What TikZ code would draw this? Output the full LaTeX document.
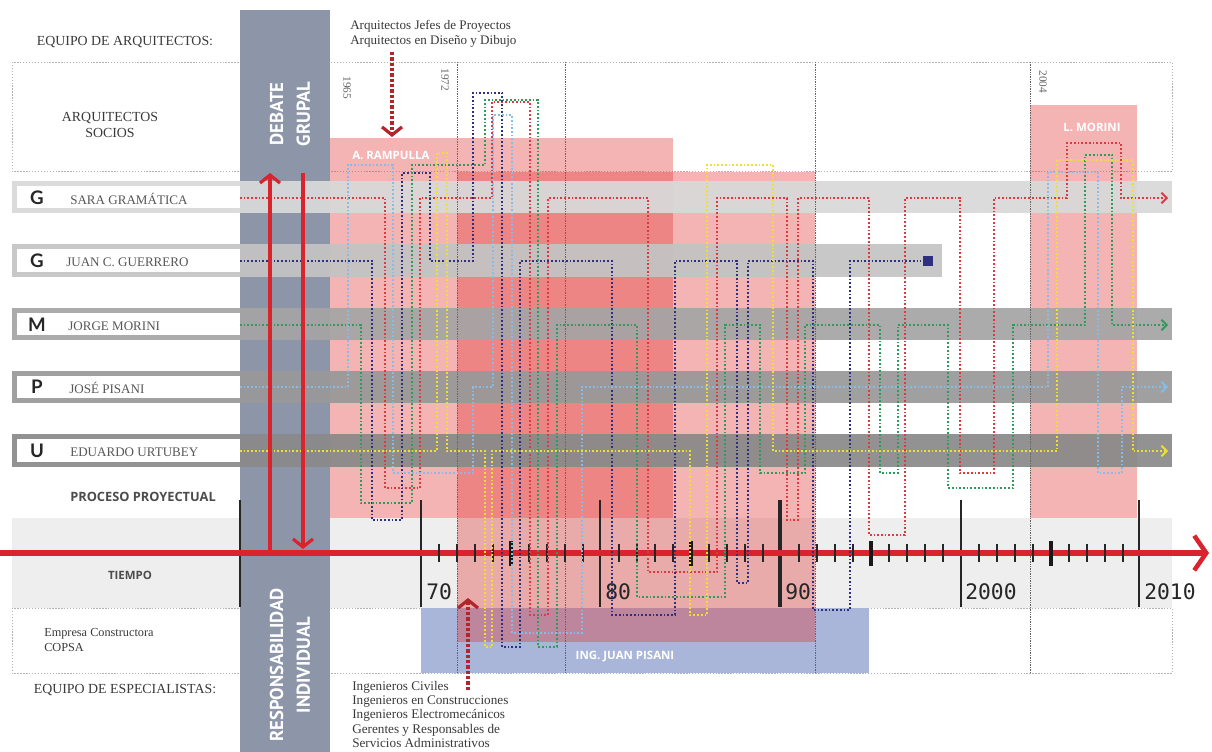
\documentclass[tikz,border=0pt]{standalone}
\usepackage{fontspec}
\setmainfont{Liberation Serif}
\newfontfamily\osans{Open Sans}
\newfontfamily\ptsans{PT Sans}
\newfontfamily\numfont{DejaVu Sans Mono}
\newfontfamily\lato{Lato}
\usetikzlibrary{arrows.meta}

\definecolor{colbg}{HTML}{8D96A9}
\definecolor{pinkbase}{HTML}{E13434}
\definecolor{blueblk}{HTML}{A9B6D9}
\definecolor{tband}{HTML}{EEEEEE}
\definecolor{cSara}{HTML}{DA3B40}
\definecolor{cJuan}{HTML}{2E2F7E}
\definecolor{cMorini}{HTML}{2F9A5C}
\definecolor{cPisani}{HTML}{86BDE6}
\definecolor{cUrtubey}{HTML}{EEE030}
\definecolor{arrowred}{HTML}{D9232D}
\definecolor{darkred}{HTML}{B0262C}
\definecolor{txt}{HTML}{3A3A3A}
\definecolor{bandA}{HTML}{D9D9D9}
\definecolor{bandB}{HTML}{C4C4C4}
\definecolor{bandC}{HTML}{A5A5A5}
\definecolor{bandD}{HTML}{999999}
\definecolor{bandE}{HTML}{8A8A8A}

\tikzset{
  frame/.style={draw=gray!60, line width=0.6pt, dash pattern=on 1pt off 1.2pt},
  sep/.style={draw=gray!80!black, line width=0.5pt, dash pattern=on 1pt off 0.8pt},
  pinkblock/.style={fill=pinkbase, fill opacity=0.365},
  band/.style={fill opacity=0.93},
  trail/.style={line width=1.4pt, dash pattern=on 1.3pt off 1.5pt, line join=miter},
  endtip/.style={-{Straight Barb[length=4pt,width=8pt,line width=1.4pt]}},
  serif/.style={font=\fontsize{10.4}{12}\selectfont, text=txt, inner sep=0pt},
  rowname/.style={font=\fontsize{9.8}{11}\selectfont, text=txt!85, anchor=west, inner sep=0pt},
  rowletter/.style={font=\lato\bfseries\fontsize{14}{14}\selectfont, text=black!85, inner sep=0pt},
  colword/.style={font=\ptsans\bfseries\fontsize{14}{20}\selectfont, text=white, rotate=90, align=center, inner sep=0pt},
  blocklabel/.style={font=\osans\bfseries\fontsize{8.6}{10}\selectfont, text=white, inner sep=0pt},
  sideword/.style={font=\osans\bfseries\fontsize{9.6}{11}\selectfont, text=black!70, inner sep=0pt},
  yearlabel/.style={font=\fontsize{8.5}{9}\selectfont, text=black!60, rotate=-90, inner sep=0pt},
  decade/.style={font=\numfont\fontsize{16}{16}\selectfont, text=black!85, anchor=west, inner sep=0pt},
  decline/.style={draw=black!85, line width=1.5pt},
  tick/.style={draw=black!85, line width=1.3pt},
  bigtick/.style={draw=black!90, line width=2.8pt},
  bigarrow/.style={draw=arrowred, line width=2.4pt, -{Straight Barb[length=6pt,width=15pt,line width=2.4pt]}},
  notearrow/.style={draw=darkred, line width=3pt, dash pattern=on 2.4pt off 1.6pt, -{Straight Barb[length=6pt,width=15pt,line width=2.4pt]}}
}

\begin{document}
\begin{tikzpicture}[x=0.75pt,y=-0.75pt]
\path[use as bounding box, fill=white] (0,0) rectangle (1212,752);

% dotted frames of the architects' and specialists' rows
\draw[frame] (12,62) rectangle (1172,171);
\draw[frame] (12,608) rectangle (1172,673);

% time band
\fill[tband] (12,518) rectangle (1172,608);

% Ing. Juan Pisani and the pink project blocks
\fill[blueblk] (421,608) rectangle (869,673);
\fill[pinkblock] (330,138) rectangle (673,518);
\fill[pinkblock] (457,172) rectangle (815,642);
\fill[pinkblock] (1030,105) rectangle (1137,518);

% group debate / individual responsibility column
\fill[colbg] (240,10) rectangle (330,752);

% partner rows
\fill[bandA, band] (12,181) rectangle (1172,213);
\fill[bandB, band] (12,244) rectangle (942,277);
\fill[bandC, band] (12,308) rectangle (1172,340);
\fill[bandD, band] (12,371) rectangle (1172,403);
\fill[bandE, band] (12,434) rectangle (1172,467);
\fill[white] (17,186) rectangle (240,208);
\fill[white] (17,249) rectangle (240,272);
\fill[white] (17,313) rectangle (240,335);
\fill[white] (17,376) rectangle (240,398);
\fill[white] (17,439) rectangle (240,462);

% period separators
\foreach \sx in {457,565,815,1030} \draw[sep] (\sx,62) -- (\sx,673);

% decade lines
\draw[decline] (240,500) -- (240,607);
\draw[decline] (421,500) -- (421,607);
\draw[decline, line width=2.2pt] (600,500) -- (600,607);
\draw[decline, line width=3pt] (780,500) -- (780,607);
\draw[decline] (961,500) -- (961,607);
\draw[decline] (1139,500) -- (1139,607);

% time axis
\coordinate (t0) at (0,553);
\coordinate (t1) at (1209,553);
\draw[draw=arrowred, line width=4.5pt, -{Straight Barb[length=9pt,width=26pt,line width=3.4pt]}] (t0) -- (t1);
\foreach \yr in {1,...,39} {
  \pgfmathtruncatemacro{\m}{mod(\yr,10)}
  \ifnum\m=0\relax\else
    \ifnum\m=5\relax
      \draw[bigtick] ({421+18*\yr},541) -- ({421+18*\yr},566);
    \else
      \draw[tick] ({421+18*\yr},544) -- ({421+18*\yr},562);
    \fi
  \fi
}
\node[decade] (d70) at (426,592) {70};
\node[decade] (d80) at (605,592) {80};
\node[decade] (d90) at (785,592) {90};
\node[decade] (d00) at (965,592) {2000};
\node[decade] (d10) at (1144,592) {2010};

% Sara Gramatica
\draw[trail, cSara, endtip] (240,198) -- (385,198) -- (385,488) -- (420,488) -- (420,198) -- (492,198) -- (492,102) -- (530,102) -- (530,615) -- (548,615) -- (548,198) -- (648,198) -- (648,572) -- (717,572) -- (717,198) -- (787,198) -- (787,520) -- (798,520) -- (798,198) -- (869,198) -- (869,535) -- (905,535) -- (905,198) -- (960,198) -- (960,473) -- (994,473) -- (994,198) -- (1067,198) -- (1067,143) -- (1121,143) -- (1121,198) -- (1168,198);
% Juan C. Guerrero
\draw[trail, cJuan] (240,261) -- (372,261) -- (372,520) -- (402,520) -- (402,173) -- (430,173) -- (430,261) -- (473,261) -- (473,93) -- (502,93) -- (502,647) -- (520,647) -- (520,261) -- (612,261) -- (612,615) -- (675,615) -- (675,261) -- (737,261) -- (737,583) -- (748,583) -- (748,261) -- (813,261) -- (813,610) -- (850,610) -- (850,261) -- (921,261);
\node[fill=cJuan, minimum size=7.5pt, inner sep=0pt] (jend) at (928,261) {};
% Jorge Morini
\draw[trail, cMorini, endtip] (240,325) -- (361,325) -- (361,503) -- (412,503) -- (412,165) -- (485,165) -- (485,100) -- (538,100) -- (538,647) -- (557,647) -- (557,325) -- (637,325) -- (637,597) -- (725,597) -- (725,325) -- (760,325) -- (760,473) -- (805,473) -- (805,325) -- (880,325) -- (880,473) -- (898,473) -- (898,325) -- (948,325) -- (948,488) -- (1013,488) -- (1013,325) -- (1085,325) -- (1085,155) -- (1112,155) -- (1112,325) -- (1168,325);
% Jose Pisani
\draw[trail, cPisani, endtip] (240,387) -- (348,387) -- (348,165) -- (393,165) -- (393,473) -- (473,473) -- (473,387) -- (493,387) -- (493,115) -- (512,115) -- (512,633) -- (582,633) -- (582,387) -- (1048,387) -- (1048,172) -- (1098,172) -- (1098,473) -- (1122,473) -- (1122,387) -- (1168,387);
% Eduardo Urtubey
\draw[trail, cUrtubey, endtip] (240,451) -- (437,451) -- (437,153) -- (447,153) -- (447,451) -- (485,451) -- (485,647) -- (492,647) -- (492,451) -- (690,451) -- (690,615) -- (707,615) -- (707,165) -- (773,165) -- (773,451) -- (1057,451) -- (1057,160) -- (1133,160) -- (1133,451) -- (1168,451);

% debate arrows
\coordinate (upA) at (270,553);
\coordinate (upB) at (270,173);
\coordinate (dnA) at (303,173);
\coordinate (dnB) at (303,549);
\draw[bigarrow] (upA) -- (upB);
\draw[bigarrow] (dnA) -- (dnB);

% column words
\node[colword] (deb) at (290,114) {DEBATE\\GRUPAL};
\node[colword] (resp) at (290,665) {RESPONSABILIDAD\\INDIVIDUAL};

% annotations above and below
\node[serif, anchor=west, align=left, font=\fontsize{9.8}{11.3}\selectfont] (jefes) at (350,34) {Arquitectos Jefes de Proyectos\\Arquitectos en Diseño y Dibujo};
\coordinate (jefesArrow) at (392,137);
\draw[notearrow] (392,52) -- (jefesArrow);
\node[serif, anchor=north west, align=left, font=\fontsize{9.9}{10.7}\selectfont] (ing) at (352,681) {Ingenieros Civiles\\Ingenieros en Construcciones\\Ingenieros Electromecánicos\\Gerentes y Responsables de\\Servicios Administrativos};
\coordinate (ingArrow) at (468,598);
\draw[notearrow] (468,690) -- (ingArrow);

% left column labels
\node[serif] (eqa) at (125,42) {EQUIPO DE ARQUITECTOS:};
\node[serif, align=center] (socios) at (110,125) {ARQUITECTOS\\SOCIOS};
\node[serif, anchor=west, align=left, font=\fontsize{9.2}{11.5}\selectfont] (copsa) at (44,640) {Empresa Constructora\\COPSA};
\node[serif] (eqe) at (125,690) {EQUIPO DE ESPECIALISTAS:};
\node[sideword] (proc) at (143,497) {PROCESO PROYECTUAL};
\node[sideword, font=\osans\bfseries\fontsize{8.6}{10}\selectfont] (tiempo) at (130,575) {TIEMPO};

% partner names
\node[rowletter] (lS) at (37,198) {G};
\node[rowname] (nS) at (70,199) {SARA GRAMÁTICA};
\node[rowletter] (lJ) at (37,261) {G};
\node[rowname] (nJ) at (66,262) {JUAN C. GUERRERO};
\node[rowletter] (lM) at (37,325) {M};
\node[rowname] (nM) at (68,326) {JORGE MORINI};
\node[rowletter] (lP) at (37,387) {P};
\node[rowname] (nP) at (69,388) {JOSÉ PISANI};
\node[rowletter] (lU) at (37,451) {U};
\node[rowname] (nU) at (70,452) {EDUARDO URTUBEY};

% block names and years
\node[blocklabel, anchor=west] (ramp) at (352,155) {A. RAMPULLA};
\node[blocklabel] (lmor) at (1092,127) {L. MORINI};
\node[blocklabel] (jpis) at (625,657) {ING. JUAN PISANI};
\node[yearlabel] (y65) at (347,88) {1965};
\node[yearlabel] (y72) at (445,80) {1972};
\node[yearlabel] (y04) at (1043,82) {2004};
\end{tikzpicture}
\end{document}
